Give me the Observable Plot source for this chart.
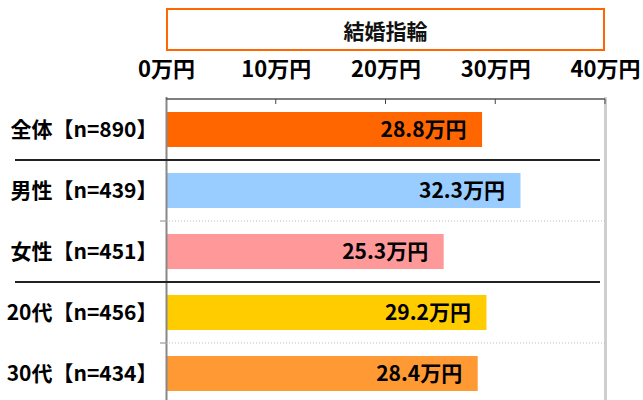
<!DOCTYPE html>
<html><head><meta charset="utf-8">
<script src="https://cdn.jsdelivr.net/npm/d3@7"></script>
<script src="https://cdn.jsdelivr.net/npm/@observablehq/plot@0.6"></script>
<style>
body{margin:0;background:#fff;overflow:hidden;font-family:"Noto Sans CJK JP",sans-serif;}
#wrap{position:relative;width:643px;height:400px;overflow:hidden;}
#title{position:absolute;left:166px;top:8px;width:435px;height:39px;border:2.5px solid #FF6600;display:flex;align-items:center;justify-content:center;font-weight:bold;font-size:21px;color:#111;background:#fff;}
#chart{position:absolute;left:0;top:0;}
</style></head>
<body>
<div id="wrap"><div id="chart"></div><div id="title">結婚指輪</div></div>
<script>
const categories = ["全体【n=890】","男性【n=439】","女性【n=451】","20代【n=456】","30代【n=434】"];
const values = [28.8, 32.3, 25.3, 29.2, 28.4];
const colors = ["#FF6600","#99CCFF","#FF9999","#FFCC00","#FF9933"];
const xTicks = [0, 10, 20, 30, 40];
const tickLabels = ["0万円","10万円","20万円","30万円","40万円"];
const solidAfter = [0, 2];   // group separators (solid) after these rows
const dottedAfter = [1, 3];  // separators (dotted) after these rows

const data = categories.map((c, i) => ({cat: c, value: values[i]}));
const font = '"Noto Sans CJK JP", sans-serif';

const chart = Plot.plot({
  width: 643, height: 405,
  marginLeft: 166, marginRight: 38, marginTop: 97, marginBottom: 0,
  style: {fontFamily: font, color: "#111", background: "transparent"},
  x: {domain: [0, 40], axis: null},
  y: {domain: categories, paddingInner: 0.43, paddingOuter: 0.215, axis: null},
  color: {domain: categories, range: colors},
  marks: [
    Plot.barX(data, {x: "value", y: "cat", fill: "cat"}),
    Plot.ruleX([40], {stroke: "#cfcfcf", strokeWidth: 3}),
    Plot.ruleX([0], {stroke: "#888", strokeWidth: 2}),
    Plot.text(data, {x: "value", y: "cat", text: d => d.value.toFixed(1) + "万円",
      textAnchor: "end", dx: -16, fontSize: 21, fontWeight: "bold", fill: "#000"}),
    Plot.axisX({anchor: "top", ticks: xTicks, tickFormat: (d) => tickLabels[xTicks.indexOf(d)], label: null,
      tickSize: 0, tickPadding: 21, fontSize: 22, fontWeight: "bold", fill: "#000"}),
    Plot.axisY({anchor: "left", tickSize: 0, tickPadding: 9, label: null, fontSize: 21, fontWeight: "bold", fill: "#000"})
  ]
});
document.getElementById("chart").appendChild(chart);

const ys = chart.scale("y"), xs = chart.scale("x");
const gap = (ys.step - ys.bandwidth) / 2;
const boundary = i => ys.apply(categories[i]) - gap;
const x0 = xs.apply(0), x40 = xs.apply(40);
const yTop = boundary(0);
const svg = d3.select(chart);
const g = svg.append("g");
g.append("line").attr("x1", x0).attr("x2", x40).attr("y1", yTop).attr("y2", yTop)
  .attr("stroke", "#555").attr("stroke-width", 1.5);
xTicks.slice(1).forEach(t => {
  g.append("line").attr("x1", xs.apply(t)).attr("x2", xs.apply(t)).attr("y1", yTop).attr("y2", yTop + 5)
    .attr("stroke", "#444").attr("stroke-width", 1);
});
for (let i = 1; i < categories.length; i++) {
  const yb = boundary(i);
  g.append("line").attr("x1", x0 - 6).attr("x2", x0).attr("y1", yb).attr("y2", yb)
    .attr("stroke", "#888").attr("stroke-width", 1);
}
dottedAfter.forEach(i => {
  const yb = boundary(i + 1);
  g.append("line").attr("x1", x0).attr("x2", x40).attr("y1", yb).attr("y2", yb)
    .attr("stroke", "#bbb").attr("stroke-width", 1).attr("stroke-dasharray", "1,2");
});
solidAfter.forEach(i => {
  const yb = boundary(i + 1);
  g.append("line").attr("x1", 15).attr("x2", x40 - 5).attr("y1", yb).attr("y2", yb)
    .attr("stroke", "#222").attr("stroke-width", 2);
});
</script>
</body></html>
